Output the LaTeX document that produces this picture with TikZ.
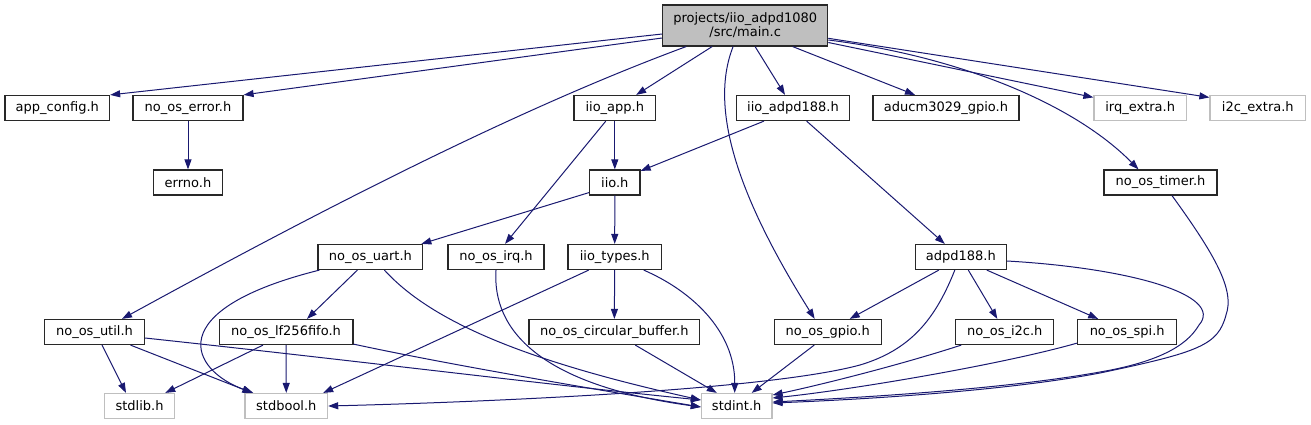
\documentclass[tikz,border=0pt]{standalone}
\usepackage{fontspec}
\setmainfont{DejaVu Sans}
\usetikzlibrary{arrows.meta,calc}
\definecolor{edgecol}{RGB}{25,25,112}
\definecolor{boxline}{RGB}{40,40,40}
\definecolor{missing}{RGB}{191,191,191}
\begin{document}
\begin{tikzpicture}[x=1pt,y=-1pt,
  hbox/.style={draw=boxline,line width=1.2pt,fill=white,inner sep=0pt,minimum height=25pt,
    font=\fontsize{13}{14}\selectfont,text=black},
  mbox/.style={hbox,draw=missing},
  edge/.style={draw=edgecol,line width=1pt,-{Triangle[length=10pt,width=7pt]}}]
\useasboundingbox (0,0) rectangle (1311,425);
% nodes
\node[hbox,fill=missing,minimum width=165pt,minimum height=41pt,align=center] (main) at (745.2,25.5) {projects/iio\_adpd1080\\/src/main.c};
\node[hbox,minimum width=104.5pt] (appconfig) at (57.3,108) {app\_config.h};
\node[hbox,minimum width=110pt] (error) at (188,108) {no\_os\_error.h};
\node[hbox,minimum width=68.3pt] (errno) at (188,182.5) {errno.h};
\node[hbox,minimum width=81.6pt] (iioapp) at (614.8,108) {iio\_app.h};
\node[hbox,minimum width=50.5pt] (iio) at (614.8,182.5) {iio.h};
\node[hbox,minimum width=113.3pt] (iioadpd) at (793,108) {iio\_adpd188.h};
\node[hbox,minimum width=146pt] (aducm) at (946,108) {aducm3029\_gpio.h};
\node[mbox,minimum width=92.4pt] (irqextra) at (1140.2,108) {irq\_extra.h};
\node[mbox,minimum width=95.6pt] (i2cextra) at (1257.8,108) {i2c\_extra.h};
\node[hbox,minimum width=113pt] (timer) at (1160.5,182.5) {no\_os\_timer.h};
\node[hbox,minimum width=104.7pt] (uart) at (370.4,257) {no\_os\_uart.h};
\node[hbox,minimum width=96pt] (osirq) at (496,257) {no\_os\_irq.h};
\node[hbox,minimum width=93.4pt] (types) at (614.7,257) {iio\_types.h};
\node[hbox,minimum width=91pt] (adpd) at (960.8,257) {adpd188.h};
\node[hbox,minimum width=99.8pt] (util) at (94.5,332) {no\_os\_util.h};
\node[hbox,minimum width=133.8pt] (fifo) at (286,332) {no\_os\_lf256fifo.h};
\node[hbox,minimum width=170.7pt] (circ) at (614.3,332) {no\_os\_circular\_buffer.h};
\node[hbox,minimum width=107pt] (gpio) at (827.7,332) {no\_os\_gpio.h};
\node[hbox,minimum width=98pt] (i2c) at (1004.8,332) {no\_os\_i2c.h};
\node[hbox,minimum width=99pt] (spi) at (1127.2,332) {no\_os\_spi.h};
\node[mbox,minimum width=70.3pt] (stdlib) at (139.5,406) {stdlib.h};
\node[mbox,minimum width=82.6pt] (stdbool) at (286.3,406) {stdbool.h};
\node[mbox,minimum width=70.6pt] (stdint) at (736.7,406) {stdint.h};
% edges from main
\draw[edge] ($(main.west)+(0,8.5)$) -- (appconfig.north east);
\draw[edge] ($(main.west)+(0,12.5)$) -- (error.north east);
\draw[edge] ($(main.south west)+(24,0)$) .. controls (520,108) and (330,205) .. ($(util.north)+(27.5,0)$);
\draw[edge] ($(main.south west)+(50,0)$) -- ($(iioapp.north east)+(-20,0)$);
\draw[edge] ($(main.south west)+(71,0)$) .. controls (708,110) and (740,200) .. ($(gpio.north)+(-13,0)$);
\draw[edge] ($(main.south west)+(93,0)$) -- ($(iioadpd.north)+(-8,0)$);
\draw[edge] ($(main.south)+(47.5,0)$) -- ($(aducm.north)+(-31,0)$);
\draw[edge] ($(main.east)+(0,17)$) -- ($(irqextra.north west)+(0,2.5)$);
\draw[edge] ($(main.east)+(0,12.8)$) -- ($(i2cextra.north west)+(0,2.5)$);
\draw[edge] ($(main.east)+(0,14.5)$) .. controls (950,55) and (1070,100) .. ($(timer.north)+(-22,0)$);
% second level
\draw[edge] (error) -- (errno);
\draw[edge] (iioapp) -- (iio);
\draw[edge] ($(iioapp.south)+(-9,0)$) -- ($(osirq.north)+(9,0)$);
\draw[edge] ($(iioadpd.south)+(-29,0)$) -- ($(iio.north east)+(0,1.5)$);
\draw[edge] ($(iioadpd.south)+(13.6,0)$) -- ($(adpd.north)+(-16,0)$);
\draw[edge] ($(iio.south west)+(0,-3)$) -- ($(uart.north east)+(-2,0)$);
\draw[edge] (iio) -- (types);
\draw[edge] ($(timer.south)+(11.5,0)$) .. controls (1215,255) and (1235,290) .. (1226,315)
   .. controls (1218,345) and (1200,352) .. (1100,373) .. controls (1000,392) and (850,400) .. ($(stdint.east)+(0,-3)$);
% uart
\draw[edge] ($(uart.south west)+(2,0)$) .. controls (160,310) and (190,370) .. ($(stdbool.north)+(-33,0)$);
\draw[edge] ($(uart.south)+(-13,0)$) -- ($(fifo.north)+(21,0)$);
\draw[edge] ($(uart.south)+(14,0)$) .. controls (430,320) and (520,360) .. ($(stdint.west)+(0,-6)$);
% irq
\draw[edge] (osirq.south) .. controls (492,330) and (540,385) .. ($(stdint.west)+(0,1)$);
% types
\draw[edge] ($(types.south)+(-26,0)$) -- ($(stdbool.north east)+(-5,0)$);
\draw[edge] (types) -- (circ);
\draw[edge] ($(types.south)+(29,0)$) .. controls (690,290) and (735,330) .. ($(stdint.north)+(-2,0)$);
% adpd188
\draw[edge] ($(adpd.south)+(-22,0)$) -- ($(gpio.north)+(22,0)$);
\draw[edge] ($(adpd.south)+(-6,0)$) .. controls (935,320) and (910,350) .. (860,365)
   .. controls (760,392) and (450,403) .. (stdbool.east);
\draw[edge] ($(adpd.south)+(7.5,0)$) -- ($(i2c.north)+(-7.5,0)$);
\draw[edge] ($(adpd.south)+(26,0)$) -- ($(spi.north)+(-29,0)$);
\draw[edge] ($(adpd.east)+(0,4)$) .. controls (1130,268) and (1225,295) .. (1199,325)
   .. controls (1190,340) and (1170,360) .. (1100,372) .. controls (1000,390) and (850,398) .. ($(stdint.east)+(0,-4)$);
% util
\draw[edge] ($(util.south)+(7.5,0)$) -- ($(stdlib.north)+(-13.5,0)$);
\draw[edge] ($(util.south)+(36,0)$) -- ($(stdbool.north)+(-34,0)$);
\draw[edge] ($(util.east)+(0,6)$) .. controls (350,360) and (550,385) .. ($(stdint.west)+(0,-6)$);
% fifo
\draw[edge] ($(fifo.south)+(-23,0)$) -- ($(stdlib.north east)+(-10,0)$);
\draw[edge] (fifo) -- (stdbool);
\draw[edge] ($(fifo.south east)+(0,-1)$) .. controls (450,365) and (600,390) .. ($(stdint.west)+(0,1)$);
% lower
\draw[edge] ($(circ.south)+(21,0)$) -- ($(stdint.north west)+(16,0)$);
\draw[edge] ($(gpio.south)+(-13.5,0)$) -- ($(stdint.north)+(15,0)$);
\draw[edge] ($(i2c.south west)+(6,0)$) .. controls (900,365) and (820,385) .. ($(stdint.east)+(0,-11)$);
\draw[edge] ($(spi.south west)+(0,-2)$) .. controls (1000,365) and (850,390) .. ($(stdint.east)+(0,-8)$);
\end{tikzpicture}
\end{document}
